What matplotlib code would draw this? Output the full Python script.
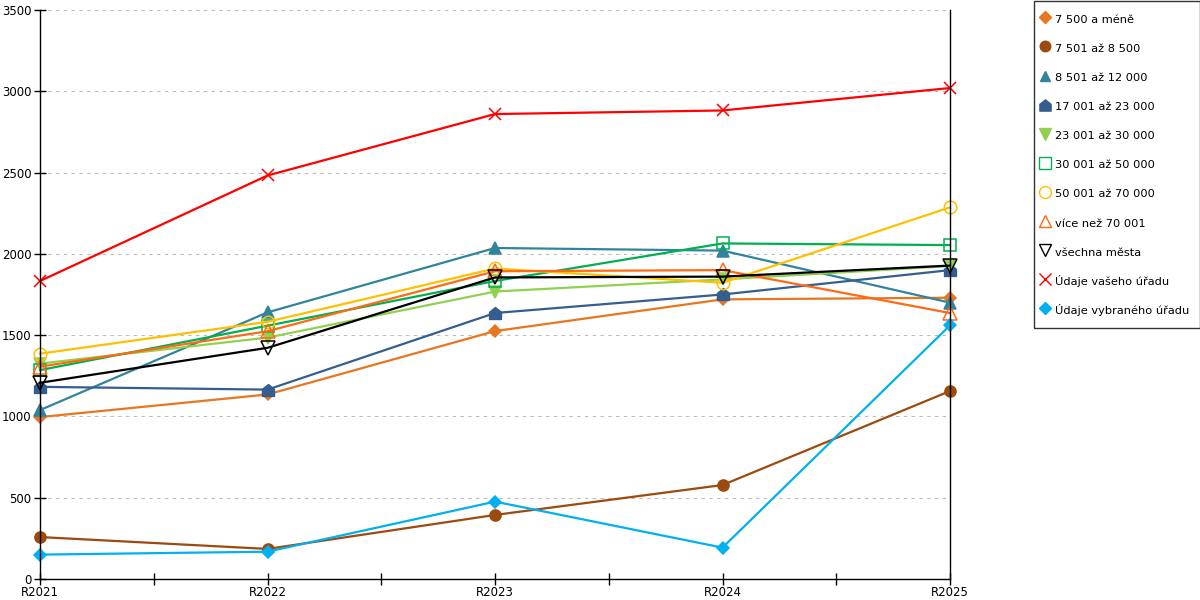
import matplotlib
matplotlib.use("Agg")
import matplotlib.pyplot as plt
from matplotlib.lines import Line2D
from matplotlib.path import Path
from matplotlib.ticker import MultipleLocator, FixedLocator

categories = ["R2021", "R2022", "R2023", "R2024", "R2025"]

labels = [
    "7 500 a méně",
    "7 501 až 8 500",
    "8 501 až 12 000",
    "17 001 až 23 000",
    "23 001 až 30 000",
    "30 001 až 50 000",
    "50 001 až 70 000",
    "více než 70 001",
    "všechna města",
    "Údaje vašeho úřadu",
    "Údaje vybraného úřadu",
]

v_7500 = [996, 1135, 1525, 1720, 1730]
v_8500 = [258, 185, 394, 578, 1156]
v_12000 = [1039, 1640, 2036, 2020, 1700]
v_23000 = [1182, 1165, 1636, 1750, 1900]
v_30000 = [1325, 1485, 1768, 1843, 1925]
v_50000 = [1285, 1558, 1833, 2064, 2054]
v_70000 = [1386, 1582, 1910, 1822, 2286]
v_more = [1306, 1524, 1893, 1900, 1636]
v_all = [1207, 1422, 1855, 1860, 1928]
v_yours = [1833, 2482, 2860, 2882, 3020]
v_selected = [150, 168, 476, 193, 1560]

series = [v_7500, v_8500, v_12000, v_23000, v_30000, v_50000,
          v_70000, v_more, v_all, v_yours, v_selected]

house = Path([(-1, -1), (1, -1), (1, 0.2), (0, 1), (-1, 0.2), (-1, -1)],
             [Path.MOVETO, Path.LINETO, Path.LINETO, Path.LINETO, Path.LINETO, Path.CLOSEPOLY])

styles = [
    dict(color="#E8761E", marker="D", ms=6.5, mfc="#E8761E"),
    dict(color="#9C4A0E", marker="o", ms=8, mfc="#9C4A0E"),
    dict(color="#31849B", marker="^", ms=8, mfc="#31849B"),
    dict(color="#355E8F", marker=house, ms=8.5, mfc="#355E8F"),
    dict(color="#92D050", marker="v", ms=8.5, mfc="#92D050"),
    dict(color="#00B050", marker="s", ms=8.5, mfc="none"),
    dict(color="#FFC000", marker="o", ms=9, mfc="none"),
    dict(color="#FF6A13", marker="^", ms=9.5, mfc="none"),
    dict(color="#000000", marker="v", ms=9.5, mfc="none"),
    dict(color="#FF0000", marker="x", ms=8.5, mfc="none"),
    dict(color="#00B0F0", marker="D", ms=6.5, mfc="#00B0F0"),
]

fig = plt.figure(figsize=(12, 6), dpi=100)
ax = fig.add_axes([40/1200, 21/600, 910/1200, 569/600])

x = list(range(len(categories)))
for vals, st in zip(series, styles):
    ax.plot(x, vals, color=st["color"], lw=1.6, marker=st["marker"],
            ms=st["ms"], mfc=st["mfc"], mec=st["color"], mew=1.1, clip_on=False)

ax.set_xlim(0, 4)
ax.set_ylim(0, 3500)
ax.yaxis.set_major_locator(MultipleLocator(500))
ax.set_xticks(x)
ax.set_xticklabels(categories)
ax.xaxis.set_minor_locator(FixedLocator([0.5, 1.5, 2.5, 3.5]))
ax.tick_params(axis="both", which="both", direction="inout", length=8, width=1,
               labelsize=8.5, pad=1, colors="black")
ax.tick_params(axis="y", pad=2)
ax.grid(axis="y", color="#BBBBBB", linestyle=(0, (3, 4)), lw=0.8)
ax.set_axisbelow(True)
for s in ["left", "bottom", "right"]:
    ax.spines[s].set_color("black")
    ax.spines[s].set_linewidth(1)
ax.spines["top"].set_visible(False)

handles = [Line2D([], [], linestyle="none", marker=st["marker"],
                  ms=st["ms"] * 0.95, mfc=st["mfc"], mec=st["color"], mew=1.0)
           for st in styles]
leg = fig.legend(handles, labels, loc="upper left",
                 bbox_to_anchor=(1034/1200, 1 - 1/600), fontsize=8.2,
                 frameon=True, fancybox=False, edgecolor="black",
                 labelspacing=1.27, handlelength=0.05, handleheight=1.6,
                 handletextpad=0.88, borderpad=0.95, borderaxespad=0)
leg.get_frame().set_linewidth(1)

fig.savefig("out.png", dpi=100)
